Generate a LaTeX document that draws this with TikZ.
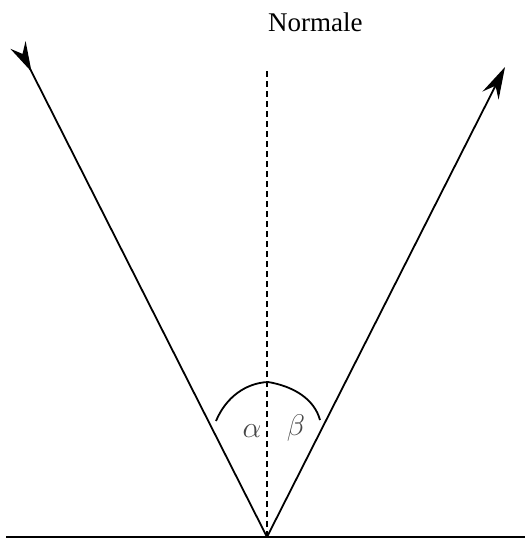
\documentclass[tikz,border=0pt]{standalone}
\usepackage{fontspec}
\setmainfont{Liberation Serif}
\usetikzlibrary{arrows.meta}
\tikzset{
  ray/.style={line width=1.8pt},
  normal line/.style={line width=1.1pt, dash pattern=on 6pt off 4pt},
  anglelabel/.style={text=black!72, font=\fontsize{24.88}{30}\selectfont, scale=1.2, transform shape}
}
\begin{document}
\begin{tikzpicture}[x=1pt, y=-1pt]
            \useasboundingbox (0,0) rectangle (525,540);
            % points of incidence, ends of the rays
            \coordinate (O) at (267,537);
            \coordinate (L) at (18,45);
            \coordinate (R) at (505,67);
            \coordinate (Ntop) at (267,68);
            % mirror surface
            \draw[line width=2.4pt] (6,537) -- (525,537);
            % normal
            \draw[normal line] (O) -- (Ntop);
            \node[anchor=base west, inner sep=0pt, font=\fontsize{27}{30}\selectfont] (normlabel) at (268,32) {Normale};
            % incident and reflected ray
            \draw[ray, {Stealth[reversed, length=30pt, width=17pt, inset=10pt]}-] (L) -- (O);
            \draw[ray, -{Stealth[length=32pt, width=18pt, inset=11pt]}] (O) -- (R);
            % angles
            \draw[line width=1.8pt] (216,421) .. controls (226,397) and (246,383) .. (268,382)
                .. controls (292,386) and (314,398) .. (320,420);
            \node[anglelabel] (alpha) at (252,431) {$\alpha$};
            \node[anglelabel] (beta) at (296,428) {$\beta$};
        \end{tikzpicture}
\end{document}
